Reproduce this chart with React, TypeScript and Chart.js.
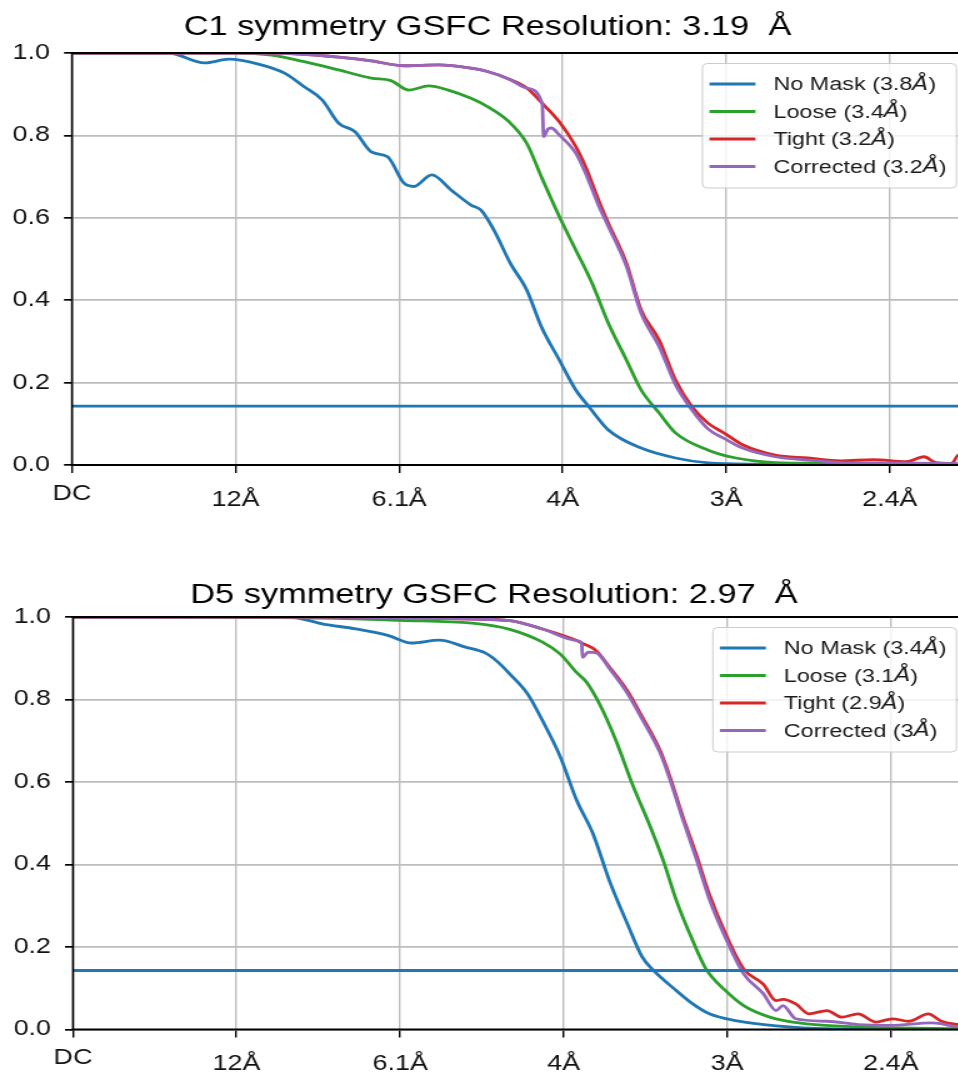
import React, { useEffect, useRef } from "react";
import { Chart, registerables } from "chart.js";

Chart.register(...registerables);

type Pt = [number, number];

// ---------- axis definitions ----------
const TICK_VALUES = [0, 0.0833, 0.1667, 0.25, 0.3333, 0.4167];
const TICK_LABELS = ["DC", "12Å", "6.1Å", "4Å", "3Å", "2.4Å"];
const X_MAX = 0.454;
const Y_MIN = 0;
const Y_MAX = 1;
const Y_STEP = 0.2;
const THRESHOLD = 0.143;

const SERIES_NAMES = ["No Mask", "Loose", "Tight", "Corrected"];
const SERIES_COLORS = ["#1f77b4", "#2ca02c", "#d62728", "#9467bd"];

// ---------- C1 panel ----------
const C1_TITLE = "C1 symmetry GSFC Resolution: 3.19  Å";
const C1_LEGEND = ["No Mask (3.8Å)", "Loose (3.4Å)", "Tight (3.2Å)", "Corrected (3.2Å)"];

const C1_NO_MASK: Pt[] = [
  [0, 1], [0.0492, 1], [0.0675, 0.976], [0.08, 0.985], [0.095, 0.973], [0.1083, 0.951],
  [0.1183, 0.918], [0.1275, 0.886], [0.1358, 0.83], [0.1442, 0.809], [0.1525, 0.76],
  [0.1608, 0.748], [0.1692, 0.684], [0.1742, 0.676], [0.1833, 0.704], [0.1933, 0.667],
  [0.2033, 0.631], [0.2083, 0.619], [0.215, 0.57], [0.2233, 0.49], [0.2317, 0.425],
  [0.2392, 0.335], [0.2483, 0.255], [0.2567, 0.182], [0.2633, 0.142], [0.2733, 0.085],
  [0.29, 0.041], [0.3075, 0.017], [0.3242, 0.005], [0.35, 0.002], [0.454, 0],
];
const C1_LOOSE: Pt[] = [
  [0, 1], [0.0833, 1], [0.1017, 0.995], [0.1183, 0.979], [0.1358, 0.959], [0.1525, 0.939],
  [0.1625, 0.933], [0.1717, 0.91], [0.1817, 0.92], [0.1917, 0.91], [0.2033, 0.89],
  [0.2117, 0.87], [0.2225, 0.834], [0.2317, 0.781], [0.2392, 0.699], [0.2483, 0.603],
  [0.2567, 0.522], [0.265, 0.441], [0.2733, 0.344], [0.2825, 0.255], [0.29, 0.182],
  [0.2992, 0.126], [0.3075, 0.078], [0.3242, 0.036], [0.3383, 0.017], [0.3583, 0.006],
  [0.3833, 0.004], [0.454, 0.001],
];
const C1_TIGHT: Pt[] = [
  [0, 1], [0.1, 1], [0.1183, 0.997], [0.1358, 0.99], [0.1525, 0.981], [0.1692, 0.969],
  [0.1867, 0.971], [0.2033, 0.963], [0.2117, 0.955], [0.2225, 0.937], [0.2317, 0.915],
  [0.24, 0.876], [0.2483, 0.833], [0.2567, 0.773], [0.2617, 0.724], [0.2683, 0.643],
  [0.2733, 0.587], [0.2825, 0.49], [0.29, 0.376], [0.2992, 0.303], [0.3075, 0.206],
  [0.3158, 0.142], [0.3242, 0.101], [0.3325, 0.077], [0.3417, 0.049], [0.3583, 0.024],
  [0.375, 0.017], [0.3917, 0.01], [0.4083, 0.013], [0.425, 0.008], [0.4342, 0.02],
  [0.44, 0.006], [0.4483, 0.004], [0.4517, 0.024], [0.454, 0.012],
];
const C1_CORRECTED: Pt[] = [
  [0, 1], [0.1, 1], [0.1183, 0.997], [0.1358, 0.99], [0.1525, 0.981], [0.1692, 0.969],
  [0.1867, 0.971], [0.2033, 0.963], [0.2117, 0.955], [0.2225, 0.937], [0.2317, 0.915],
  [0.2396, 0.877], [0.2403, 0.797], [0.2425, 0.815], [0.2442, 0.818], [0.2483, 0.801],
  [0.2567, 0.757], [0.2617, 0.708], [0.2683, 0.63], [0.2733, 0.579], [0.2825, 0.482],
  [0.29, 0.368], [0.2992, 0.287], [0.3075, 0.195], [0.3158, 0.134], [0.3242, 0.087],
  [0.3325, 0.064], [0.3417, 0.041], [0.3583, 0.02], [0.375, 0.012], [0.3917, 0.006],
  [0.4167, 0.005], [0.454, 0.003],
];

// ---------- D5 panel ----------
const D5_TITLE = "D5 symmetry GSFC Resolution: 2.97  Å";
const D5_LEGEND = ["No Mask (3.4Å)", "Loose (3.1Å)", "Tight (2.9Å)", "Corrected (3Å)"];

const D5_NO_MASK: Pt[] = [
  [0, 1], [0.11, 1], [0.1275, 0.983], [0.1442, 0.971], [0.1608, 0.955], [0.1725, 0.937],
  [0.1867, 0.944], [0.2, 0.927], [0.21, 0.913], [0.2167, 0.89], [0.2225, 0.862],
  [0.2317, 0.813], [0.2392, 0.749], [0.2483, 0.661], [0.2567, 0.555], [0.265, 0.474],
  [0.2733, 0.361], [0.2825, 0.256], [0.29, 0.176], [0.295, 0.147], [0.3075, 0.094],
  [0.3158, 0.062], [0.3242, 0.038], [0.3383, 0.021], [0.3583, 0.009], [0.3833, 0.002],
  [0.454, 0],
];
const D5_LOOSE: Pt[] = [
  [0, 1], [0.1333, 0.997], [0.1667, 0.992], [0.2033, 0.985], [0.2225, 0.97], [0.2392, 0.939],
  [0.2483, 0.91], [0.2567, 0.865], [0.2617, 0.842], [0.2683, 0.789], [0.2767, 0.7],
  [0.285, 0.595], [0.2942, 0.491], [0.3008, 0.409], [0.3075, 0.312], [0.3158, 0.215],
  [0.3225, 0.147], [0.3325, 0.094], [0.3417, 0.058], [0.355, 0.03], [0.3667, 0.018],
  [0.3833, 0.01], [0.4083, 0.005], [0.454, 0.002],
];
const D5_TIGHT: Pt[] = [
  [0, 1], [0.1333, 1], [0.1667, 0.998], [0.2033, 0.995], [0.2225, 0.991], [0.2392, 0.971],
  [0.2567, 0.943], [0.2592, 0.937], [0.2667, 0.918], [0.2733, 0.879], [0.2825, 0.821],
  [0.29, 0.758], [0.2992, 0.676], [0.3042, 0.612], [0.3108, 0.515], [0.3175, 0.425],
  [0.3242, 0.328], [0.3325, 0.232], [0.3417, 0.147], [0.3517, 0.11], [0.3583, 0.07],
  [0.3617, 0.073], [0.3683, 0.062], [0.375, 0.038], [0.3842, 0.046], [0.3917, 0.03],
  [0.4, 0.038], [0.4092, 0.018], [0.4175, 0.026], [0.4258, 0.02], [0.4358, 0.038],
  [0.4425, 0.02], [0.454, 0.01],
];
const D5_CORRECTED: Pt[] = [
  [0, 1], [0.1333, 1], [0.1667, 0.998], [0.2033, 0.995], [0.2225, 0.991], [0.2392, 0.971],
  [0.2567, 0.943], [0.2592, 0.937], [0.2596, 0.902], [0.2625, 0.915], [0.2667, 0.913],
  [0.2733, 0.875], [0.2825, 0.815], [0.29, 0.752], [0.2992, 0.67], [0.3042, 0.605],
  [0.3108, 0.508], [0.3175, 0.415], [0.3242, 0.316], [0.3325, 0.222], [0.3417, 0.135],
  [0.3517, 0.087], [0.3583, 0.046], [0.3617, 0.058], [0.3683, 0.026], [0.3842, 0.02],
  [0.4, 0.012], [0.4167, 0.01], [0.4375, 0.016], [0.454, 0.002],
];

// ---------- styling / layout ----------
const FONT = '"Liberation Sans", Arial, Helvetica, sans-serif';
const STRETCH = 1.25; // the reference is drawn horizontally stretched
const CANVAS_W = 776;
const CANVAS_H = 564;
const TITLE_SIZE = 27.5;
const TICK_SIZE = 21.5;
const LEGEND_SIZE = 18.7;
const MID_OFFSET = 0.3465; // canvas 'middle' baseline offset (em) for Liberation Sans
const GRID_COLOR = "#bdbdbd";
const LINE_W = 2.8;

interface PanelSpec {
  title: string;
  legend: string[];
  series: Pt[][];
  plotLeft: number; // screen px
  plotRight: number;
  titleCenter: number;
  titleBaseline: number;
  plotTop: number;
  plotBottom: number;
}

const PANELS: PanelSpec[] = [
  {
    title: C1_TITLE,
    legend: C1_LEGEND,
    series: [C1_NO_MASK, C1_LOOSE, C1_TIGHT, C1_CORRECTED],
    plotLeft: 72,
    plotRight: 963,
    titleCenter: 487.5,
    titleBaseline: 37,
    plotTop: 53,
    plotBottom: 465,
  },
  {
    title: D5_TITLE,
    legend: D5_LEGEND,
    series: [D5_NO_MASK, D5_LOOSE, D5_TIGHT, D5_CORRECTED],
    plotLeft: 73,
    plotRight: 964,
    titleCenter: 494,
    titleBaseline: 41,
    plotTop: 53,
    plotBottom: 465.5,
  },
];

function splitAA(t: string): [string, string, string] {
  const i = t.indexOf("Å");
  if (i < 0) return [t, "", ""];
  return [t.slice(0, i), "Å", t.slice(i + 1)];
}

function buildConfig(spec: PanelSpec): any {
  const leftI = spec.plotLeft / STRETCH;
  const rightI = spec.plotRight / STRETCH;
  const centerI = spec.titleCenter / STRETCH;
  const padL = 2 * centerI - rightI;
  const yAxisW = leftI - padL;
  const padR = CANVAS_W - rightI;
  const titleLH = 1.2;
  const titleMid = spec.titleBaseline - MID_OFFSET * TITLE_SIZE;
  const titlePadTop = titleMid - (TITLE_SIZE * titleLH) / 2;
  const titlePadBottom = spec.plotTop - titlePadTop - TITLE_SIZE * titleLH;
  const xAxisH = CANVAS_H - spec.plotBottom;

  const datasets: any[] = spec.series.map((s, i) => ({
    label: SERIES_NAMES[i],
    data: s.map(([x, y]) => ({ x, y })),
    borderColor: SERIES_COLORS[i],
    backgroundColor: SERIES_COLORS[i],
    borderWidth: LINE_W,
    pointRadius: 0,
    cubicInterpolationMode: "monotone",
    fill: false,
    order: 4 - i,
  }));
  datasets.push({
    label: "threshold",
    data: [
      { x: 0, y: THRESHOLD },
      { x: X_MAX, y: THRESHOLD },
    ],
    borderColor: SERIES_COLORS[0],
    backgroundColor: SERIES_COLORS[0],
    borderWidth: LINE_W,
    pointRadius: 0,
    fill: false,
    order: 0,
  });

  const framePlugin = {
    id: "frame",
    afterDatasetsDraw(chart: any) {
      const { ctx, chartArea: a } = chart;
      ctx.save();
      ctx.strokeStyle = "#000";
      ctx.lineWidth = 1.8;
      ctx.beginPath();
      ctx.moveTo(a.left - 0.8, a.top);
      ctx.lineTo(a.right + 0.8, a.top);
      ctx.moveTo(a.left - 0.8, a.bottom);
      ctx.lineTo(a.right + 0.8, a.bottom);
      ctx.stroke();
      ctx.lineWidth = 1.6;
      ctx.beginPath();
      ctx.moveTo(a.left, a.top - 0.9);
      ctx.lineTo(a.left, a.bottom + 0.9);
      ctx.moveTo(a.right, a.top - 0.9);
      ctx.lineTo(a.right, a.bottom + 0.9);
      ctx.stroke();
      ctx.restore();
    },
  };

  const legendPlugin = {
    id: "fscLegend",
    afterDraw(chart: any) {
      const ctx: CanvasRenderingContext2D = chart.ctx;
      const font = `${LEGEND_SIZE}px ${FONT}`;
      const itFont = `italic ${LEGEND_SIZE}px "DejaVu Sans", ${FONT}`;
      ctx.save();
      const parts = spec.legend.map(splitAA);
      const widths = parts.map(([a, b, c]) => {
        ctx.font = font;
        let w = ctx.measureText(a).width + ctx.measureText(c).width;
        ctx.font = itFont;
        w += b ? ctx.measureText(b).width : 0;
        return w;
      });
      const maxW = Math.max(...widths);
      const right = 956.5 / STRETCH;
      const width = 56.8 + maxW + 8;
      const left = right - width;
      const top = 63.5;
      const height = 124.5;
      ctx.beginPath();
      (ctx as any).roundRect(left, top, width, height, 4);
      ctx.fillStyle = "rgba(255,255,255,0.8)";
      ctx.fill();
      ctx.strokeStyle = "#cccccc";
      ctx.lineWidth = 1;
      ctx.stroke();
      parts.forEach(([a, b, c], i) => {
        const y = top + 20.5 + i * 27.5;
        ctx.beginPath();
        ctx.moveTo(left + 5.6, y);
        ctx.lineTo(left + 42.4, y);
        ctx.strokeStyle = SERIES_COLORS[i];
        ctx.lineWidth = LINE_W;
        ctx.stroke();
        ctx.fillStyle = "#1a1a1a";
        ctx.textBaseline = "middle";
        ctx.textAlign = "left";
        let x = left + 56.8;
        ctx.font = font;
        ctx.fillText(a, x, y + 1);
        x += ctx.measureText(a).width;
        if (b) {
          ctx.font = itFont;
          ctx.fillText(b, x, y + 1);
          x += ctx.measureText(b).width;
        }
        ctx.font = font;
        ctx.fillText(c, x, y + 1);
      });
      ctx.restore();
    },
  };

  // y tick labels may extend left of the (narrow) y-scale box: do not clip them
  const noLabelClip = (sc: any) => {
    sc._computeLabelArea = () => undefined;
  };

  return {
    type: "line",
    data: { datasets },
    options: {
      responsive: false,
      animation: false,
      events: [],
      layout: { padding: { left: padL, right: padR, top: 0, bottom: 0 } },
      plugins: {
        legend: { display: false },
        tooltip: { enabled: false },
        title: {
          display: true,
          text: spec.title,
          color: "#000",
          font: { family: FONT, size: TITLE_SIZE, weight: "normal", lineHeight: titleLH },
          padding: { top: titlePadTop, bottom: titlePadBottom },
        },
      },
      scales: {
        x: {
          type: "linear",
          min: 0,
          max: X_MAX,
          afterBuildTicks: (sc: any) => {
            sc.ticks = TICK_VALUES.map((v) => ({ value: v }));
          },
          afterFit: (sc: any) => {
            sc.height = xAxisH;
            noLabelClip(sc);
          },
          border: { display: false },
          grid: {
            color: GRID_COLOR,
            lineWidth: 1.4,
            drawTicks: true,
            tickLength: 8,
            tickColor: "#000",
            tickWidth: 1.4,
          },
          ticks: {
            autoSkip: false,
            maxRotation: 0,
            minRotation: 0,
            padding: 9,
            color: "#111",
            font: (c: any) => ({
              family: FONT,
              size: TICK_SIZE,
              lineHeight: c.index === 0 ? 24 / TICK_SIZE : 35.6 / TICK_SIZE,
            }),
            callback: (_v: any, i: number) => TICK_LABELS[i],
          },
        },
        y: {
          type: "linear",
          min: Y_MIN,
          max: Y_MAX,
          afterFit: (sc: any) => {
            sc.width = yAxisW;
            noLabelClip(sc);
          },
          border: { display: false },
          grid: {
            color: GRID_COLOR,
            lineWidth: 1.7,
            drawTicks: true,
            tickLength: 6.4,
            tickColor: "#000",
            tickWidth: 1.7,
          },
          ticks: {
            stepSize: Y_STEP,
            padding: 11.2,
            color: "#111",
            font: { family: FONT, size: TICK_SIZE },
            callback: (v: any) => Number(v).toFixed(1),
          },
        },
      },
    },
    plugins: [framePlugin, legendPlugin],
  };
}

function FscPanel({ spec, top }: { spec: PanelSpec; top: number }) {
  const ref = useRef<HTMLCanvasElement>(null);
  useEffect(() => {
    if (!ref.current) return;
    const chart = new Chart(ref.current, buildConfig(spec));
    return () => chart.destroy();
  }, [spec]);
  return (
    <canvas
      ref={ref}
      width={CANVAS_W}
      height={CANVAS_H}
      style={{
        position: "absolute",
        left: 0,
        top,
        transform: `scaleX(${STRETCH})`,
        transformOrigin: "0 0",
      }}
    />
  );
}

export default function App() {
  return (
    <div
      style={{
        position: "absolute",
        left: 0,
        top: 0,
        width: 958,
        height: 1072,
        overflow: "hidden",
        background: "#fff",
      }}
    >
      <FscPanel spec={PANELS[0]} top={0} />
      <FscPanel spec={PANELS[1]} top={564} />
    </div>
  );
}
